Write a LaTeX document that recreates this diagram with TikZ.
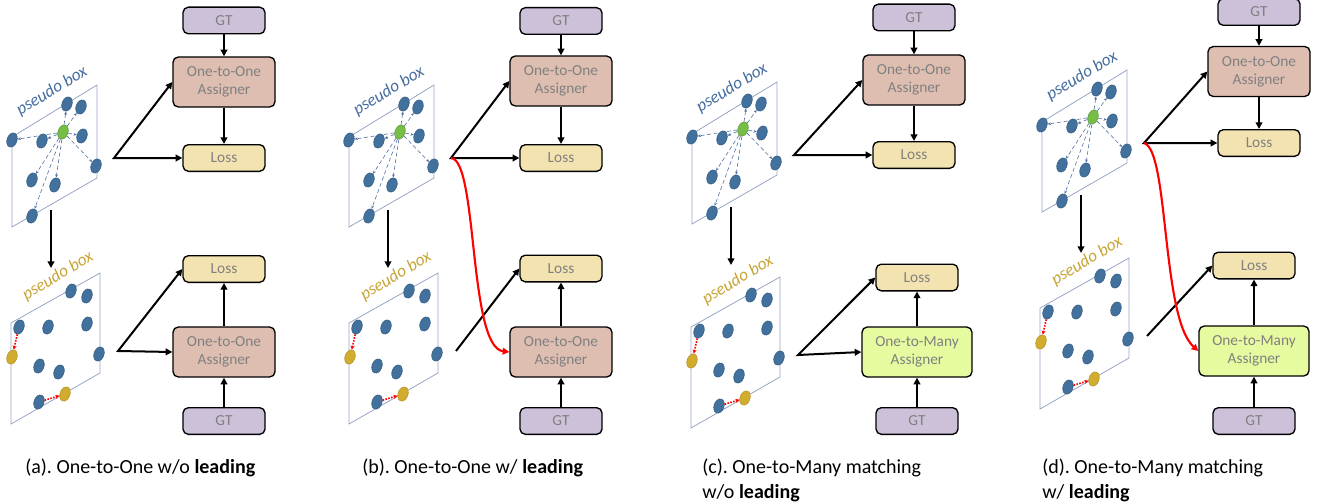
\documentclass[tikz,border=0pt]{standalone}
\usepackage{fontspec}
\setmainfont{Carlito}
\usetikzlibrary{positioning, arrows.meta, calc, shapes.geometric}
\frenchspacing

\definecolor{gtfill}{RGB}{205,193,217}
\definecolor{asgfill}{RGB}{222,190,177}
\definecolor{lossfill}{RGB}{243,227,176}
\definecolor{manyfill}{RGB}{230,250,160}
\definecolor{dotblue}{RGB}{65,113,156}
\definecolor{dotedge}{RGB}{50,90,130}
\definecolor{dotgreen}{RGB}{118,190,70}
\definecolor{dotgold}{RGB}{210,172,45}
\definecolor{pbblue}{RGB}{70,110,160}
\definecolor{pbgold}{RGB}{200,165,55}
\definecolor{panelline}{RGB}{150,165,195}
\definecolor{spreadline}{RGB}{80,110,160}

% top pseudo box: prefix, top-right corner x, y
\newcommand{\toppanel}[3]{%
  \begin{scope}[shift={(#2,#3)}]
    \draw[panel] (0,0) -- (-85,52) -- (-85,142) -- (0,93) -- cycle;
    \node[pbtext, text=pbblue] (#1-lbl) at (-45,6) {pseudo box};
    \node[gdot] (#1-c) at (-34,47) {};
    \foreach \n/\px/\py in {1/-30/19, 2/-16/22, 3/-85/55, 4/-55/56, 5/-15/51,
                            6/-1/81, 7/-65/95, 8/-42/100, 9/-65/131} {
      \node[bdot] (#1-\n) at (\px,\py) {};
      \draw[spread] (#1-c) -- (#1-\n);
    }
    \coordinate (#1-fork) at (17,73);
    \coordinate (#1-out) at (-46,125);
    \coordinate (#1-down) at (-46,183);
  \end{scope}}

% bottom pseudo box: prefix, top-right corner x, y
\newcommand{\botpanel}[3]{%
  \begin{scope}[shift={(#2,#3)}]
    \draw[panel] (0,0) -- (-89,50) -- (-89,151) -- (0,100) -- cycle;
    \node[pbtext, text=pbgold] (#1-lbl) at (-42,3) {pseudo box};
    \foreach \n/\px/\py in {1/-29/18, 2/-13/23, 3/-81/54, 4/-52/54, 5/-13/51,
                            6/-1/81, 7/-61/93, 8/-41/99, 9/-61/129} {
      \node[bdot] (#1-\n) at (\px,\py) {};
    }
    \node[ydot] (#1-y1) at (-88,84) {};
    \node[ydot] (#1-y2) at (-35,121) {};
    \draw[nudge] (#1-3) -- (#1-y1);
    \draw[nudge] (#1-9) -- (#1-y2);
    \coordinate (#1-fork) at (18,78);
  \end{scope}}

\begin{document}
\begin{tikzpicture}[
    x=0.75pt, y=-0.75pt,
    box/.style={
        draw=black,
        line width=1pt,
        rounded corners=4pt,
        text=black!50,
        align=center,
        inner sep=0pt,
        font=\fontsize{11.5}{13.5}\selectfont
    },
    gtbox/.style={box, fill=gtfill, minimum width=61.5pt, minimum height=20pt},
    lossbox/.style={box, fill=lossfill, minimum width=61.5pt, minimum height=20pt},
    asgbox/.style={box, fill=asgfill, minimum width=76.5pt, minimum height=37.5pt},
    manybox/.style={box, fill=manyfill, minimum width=82.5pt, minimum height=37.5pt},
    panel/.style={draw=panelline, line width=0.6pt},
    pbtext/.style={font=\fontsize{13}{15}\selectfont\itshape, rotate=31, inner sep=0pt},
    dot/.style={ellipse, inner sep=0pt, minimum width=7.5pt, minimum height=11pt,
        rotate=-20, draw=dotedge, line width=0.4pt},
    bdot/.style={dot, fill=dotblue},
    gdot/.style={dot, fill=dotgreen, draw=dotgreen!80!black},
    ydot/.style={dot, fill=dotgold, draw=dotgold!85!black},
    spread/.style={draw=spreadline, line width=0.45pt, densely dashed,
        -{Stealth[length=2.5pt, width=2pt]}},
    nudge/.style={draw=red, line width=1.2pt, densely dotted,
        -{Stealth[length=3pt, width=3pt]}},
    flow/.style={line width=1.5pt, -{Triangle[length=5pt, width=5pt]}},
    flowboth/.style={line width=1.5pt, {Triangle[length=5pt, width=5pt]}-{Triangle[length=5pt, width=5pt]}},
    lead/.style={draw=red, line width=1.6pt, -{Triangle[length=5pt, width=5pt]}},
    caption/.style={anchor=base west, align=left, inner sep=0pt,
        font=\fontsize{15}{18.75}\selectfont},
    caption2/.style={caption, anchor=north west}
]
\useasboundingbox (0,0) rectangle (1317,503);

% --- (a) one-to-one, no leading ---
\toppanel{a1}{97}{85}
\botpanel{a2}{100}{273}
\node[gtbox] (gta1) at (224,20.5) {GT};
\node[asgbox] (asga1) at (224,82) {One-to-One\\Assigner};
\node[lossbox] (lossa1) at (224,158) {Loss};
\node[lossbox] (lossa2) at (224,269) {Loss};
\node[asgbox] (asga2) at (224,352) {One-to-One\\Assigner};
\node[gtbox] (gta2) at (224,421) {GT};
\draw[flow] (gta1) -- (asga1);
\draw[flow] (asga1) -- (lossa1);
\draw[flowboth] (asga1.west) -- (a1-fork) -- (lossa1.west);
\draw[flow] (a1-out) -- (a1-down);
\draw[flow] (gta2) -- (asga2);
\draw[flow] (asga2) -- (lossa2);
\draw[flowboth] (lossa2.west) -- (a2-fork) -- (asga2.west);

% --- (b) one-to-one, with leading ---
\toppanel{b1}{434}{85}
\botpanel{b2}{438}{273}
\node[gtbox] (gtb1) at (561,21) {GT};
\node[asgbox] (asgb1) at (561,81) {One-to-One\\Assigner};
\node[lossbox] (lossb1) at (561,158) {Loss};
\node[lossbox] (lossb2) at (561,268.5) {Loss};
\node[asgbox] (asgb2) at (561,352) {One-to-One\\Assigner};
\node[gtbox] (gtb2) at (561,421) {GT};
\draw[flow] (gtb1) -- (asgb1);
\draw[flow] (asgb1) -- (lossb1);
\draw[flowboth] (asgb1.west) -- (b1-fork) -- (lossb1.west);
\draw[flow] (b1-out) -- (b1-down);
\draw[flow] (gtb2) -- (asgb2);
\draw[flow] (asgb2) -- (lossb2);
\draw[flow] (b2-fork) -- (lossb2.west);
\draw[lead] (b1-fork) .. controls +(27,2) and +(-41,-5) .. (asgb2.west);

% --- (c) one-to-many, no leading ---
\toppanel{c1}{777}{82}
\botpanel{c2}{780}{277}
\node[gtbox] (gtc1) at (914,17.5) {GT};
\node[asgbox] (asgc1) at (914,80) {One-to-One\\Assigner};
\node[lossbox] (lossc1) at (914,155) {Loss};
\node[lossbox] (lossc2) at (917,277.5) {Loss};
\node[manybox] (manyc2) at (917,352) {One-to-Many\\Assigner};
\node[gtbox] (gtc2) at (917,421) {GT};
\draw[flow] (gtc1) -- (asgc1);
\draw[flow] (asgc1) -- (lossc1);
\draw[flowboth] (asgc1.west) -- (c1-fork) -- (lossc1.west);
\draw[flow] (c1-out) -- (c1-down);
\draw[flow] (gtc2) -- (manyc2);
\draw[flow] (manyc2) -- (lossc2);
\draw[flowboth] (lossc2.west) -- (c2-fork) -- (manyc2.west);

% --- (d) one-to-many, with leading ---
\toppanel{d1}{1127}{70}
\botpanel{d2}{1129}{258}
\node[gtbox] (gtd1) at (1259,12) {GT};
\node[asgbox] (asgd1) at (1259,71.5) {One-to-One\\Assigner};
\node[lossbox] (lossd1) at (1259,143) {Loss};
\node[lossbox] (lossd2) at (1254,265.5) {Loss};
\node[manybox] (manyd2) at (1254,351) {One-to-Many\\Assigner};
\node[gtbox] (gtd2) at (1254,421) {GT};
\draw[flow] (gtd1) -- (asgd1);
\draw[flow] (asgd1) -- (lossd1);
\draw[flowboth] (asgd1.west) -- (d1-fork) -- (lossd1.west);
\draw[flow] (d1-out) -- (d1-down);
\draw[flow] (gtd2) -- (manyd2);
\draw[flow] (manyd2) -- (lossd2);
\draw[flow] (d2-fork) -- (lossd2.west);
\draw[lead] (d1-fork) .. controls +(25,7) and +(-37,-33) .. (manyd2.west);

% --- captions ---
\node[caption] (capa) at (25,473) {(a). One-to-One w/o \textbf{leading}};
\node[caption] (capb) at (362,473) {(b). One-to-One w/ \textbf{leading}};
\node[caption2] (capc) at (702,459) {(c). One-to-Many matching\\w/o \textbf{leading}};
\node[caption2] (capd) at (1042,459) {(d). One-to-Many matching\\w/ \textbf{leading}};

\end{tikzpicture}
\end{document}
